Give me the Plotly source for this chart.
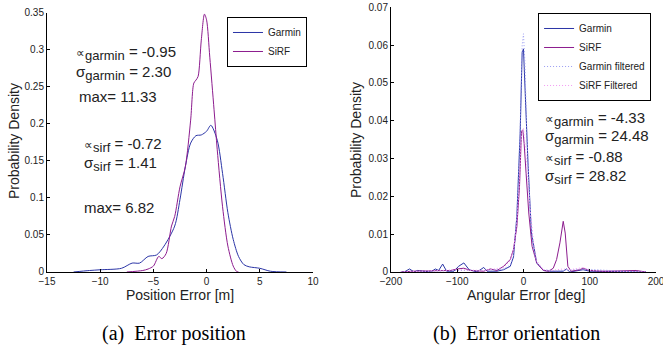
import plotly.graph_objects as go

# ---------- (a) position error ----------
pos_garmin_x = [-12.5, -11, -10, -8, -7, -6.3, -5.5, -4.7, -4, -3, -2.5, -2, -1.5, -1, -0.5, 0, 0.4, 1, 1.5, 2, 2.5, 3, 3.5, 4, 5, 6, 7.5]
pos_garmin_y = [0, 0.002, 0.003, 0.005, 0.012, 0.012, 0.021, 0.023, 0.035, 0.062, 0.098, 0.142, 0.174, 0.184, 0.185, 0.19, 0.198, 0.178, 0.133, 0.08, 0.044, 0.021, 0.01, 0.007, 0.005, 0.001, 0]
pos_sirf_x = [-7.5, -6, -5.5, -5, -4.5, -4.2, -3.8, -3.3, -3, -2.5, -2, -1.5, -1.2, -1, -0.8, -0.5, -0.2, 0, 0.3, 0.7, 1, 1.5, 2, 2.5, 2.8, 3]
pos_sirf_y = [0, 0.002, 0.004, 0.008, 0.021, 0.018, 0.025, 0.062, 0.075, 0.115, 0.142, 0.205, 0.255, 0.259, 0.264, 0.313, 0.348, 0.34, 0.29, 0.219, 0.165, 0.088, 0.035, 0.008, 0.001, 0]

# ---------- (b) orientation error ----------
ang_garmin_x = [-185, -180, -172, -165, -160, -150, -140, -133, -128, -122, -116, -105, -98, -90, -82, -70, -60, -55, -40, -30, -20, -15, -10, -5, -2, 0, 3, 7, 12, 20, 30, 40, 60, 65, 70, 85, 90, 100, 150, 185]
ang_garmin_y = [0, 0, 0.0008, 0, 0.0004, 0.0002, 0, 0.0008, 0.0004, 0.0021, 0.0002, 0.0002, 0.0015, 0.0024, 0.0006, 0, 0.0012, 0.0002, 0.0002, 0.0006, 0.0015, 0.004, 0.0147, 0.0367, 0.058, 0.059, 0.0455, 0.028, 0.0103, 0.0024, 0.0004, 0.0002, 0.0002, 0.0008, 0, 0.0006, 0.0006, 0.0002, 0, 0]
ang_sirf_x = [-185, -180, -170, -110, -100, -90, -80, -60, -50, -40, -30, -20, -15, -10, -6, -3, -1, 1, 4, 8, 13, 20, 30, 38, 45, 50, 55, 60, 63, 67, 72, 85, 90, 100, 120, 170, 185]
ang_sirf_y = [0, 0, 0.0002, 0.0004, 0.0008, 0.001, 0.0004, 0.0002, 0.0008, 0.0004, 0.0015, 0.0033, 0.006, 0.012, 0.0226, 0.0372, 0.0376, 0.034, 0.026, 0.0156, 0.0068, 0.0024, 0.0004, 0.0002, 0.001, 0.0033, 0.0077, 0.0134, 0.0103, 0.0015, 0.0002, 0.0006, 0.001, 0.0004, 0.0002, 0.0004, 0]
ang_garmin_f_x = [-185, -150, -100, -60, -30, -20, -15, -10, -5, -2, 0, 2, 5, 10, 15, 20, 30, 50, 90, 150, 185]
ang_garmin_f_y = [0, 0.0002, 0.0004, 0.0004, 0.0008, 0.0018, 0.0045, 0.015, 0.038, 0.06, 0.063, 0.056, 0.037, 0.016, 0.006, 0.0025, 0.0006, 0.0003, 0.0008, 0.0002, 0]
ang_sirf_f_x = [-185, -150, -100, -60, -30, -20, -15, -10, -6, -3, 0, 3, 6, 10, 15, 20, 30, 40, 50, 60, 70, 80, 90, 100, 150, 185]
ang_sirf_f_y = [0, 0.0002, 0.0006, 0.0004, 0.0012, 0.003, 0.006, 0.013, 0.024, 0.036, 0.038, 0.033, 0.025, 0.017, 0.008, 0.003, 0.0006, 0.0003, 0.0006, 0.0008, 0.0006, 0.0008, 0.0012, 0.0004, 0.0002, 0]

GARMIN = "#2b35a6"
SIRF = "#8c1c8e"
GARMIN_F = "#9a9cf2"
SIRF_F = "#f29af2"

fig = go.Figure()
fig.add_trace(go.Scatter(x=pos_garmin_x, y=pos_garmin_y, mode="lines", name="Garmin",
                         line=dict(color=GARMIN, width=1, shape="spline", smoothing=0.8),
                         xaxis="x", yaxis="y", legend="legend"))
fig.add_trace(go.Scatter(x=pos_sirf_x, y=pos_sirf_y, mode="lines", name="SiRF",
                         line=dict(color=SIRF, width=1, shape="spline", smoothing=0.8),
                         xaxis="x", yaxis="y", legend="legend"))

fig.add_trace(go.Scatter(x=ang_garmin_x, y=ang_garmin_y, mode="lines", name="Garmin",
                         line=dict(color=GARMIN, width=1), xaxis="x2", yaxis="y2", legend="legend2"))
fig.add_trace(go.Scatter(x=ang_sirf_x, y=ang_sirf_y, mode="lines", name="SiRF",
                         line=dict(color=SIRF, width=1), xaxis="x2", yaxis="y2", legend="legend2"))
fig.add_trace(go.Scatter(x=ang_garmin_f_x, y=ang_garmin_f_y, mode="lines", name="Garmin filtered",
                         line=dict(color=GARMIN_F, width=1, dash="1px,2px"), xaxis="x2", yaxis="y2", legend="legend2"))
fig.add_trace(go.Scatter(x=ang_sirf_f_x, y=ang_sirf_f_y, mode="lines", name="SiRF Filtered",
                         line=dict(color=SIRF_F, width=1, dash="1px,2px"), xaxis="x2", yaxis="y2", legend="legend2"))

axis_common = dict(showline=True, linecolor="black", linewidth=1, ticks="inside", ticklen=3,
                   tickcolor="black", showgrid=False, zeroline=False, mirror=False, automargin=False,
                   ticklabeloverflow="allow",
                   tickfont=dict(family="Liberation Sans, Arial", size=10, color="#222"))

fig.update_layout(
    width=663, height=351,
    margin=dict(l=0, r=0, t=0, b=0),
    paper_bgcolor="white", plot_bgcolor="white",
    showlegend=True,
    xaxis=dict(domain=[0.0709, 0.4721], range=[-15, 10], dtick=5, anchor="y", **axis_common),
    yaxis=dict(domain=[0.2251, 0.9638], range=[0, 0.35], dtick=0.05, anchor="x", **axis_common),
    xaxis2=dict(domain=[0.5897, 0.9894], range=[-200, 200], dtick=100, anchor="y2", **axis_common),
    yaxis2=dict(domain=[0.2251, 0.9792], range=[0, 0.07], dtick=0.01, anchor="x2", **axis_common),
    legend=dict(x=0.463, y=0.9516, xanchor="right", yanchor="top", bgcolor="white",
                bordercolor="black", borderwidth=1, itemwidth=30,
                font=dict(family="Liberation Sans, Arial", size=10, color="#222"),
                tracegroupgap=0),
    legend2=dict(x=0.982, y=0.963, xanchor="right", yanchor="top", bgcolor="white",
                 bordercolor="black", borderwidth=1, itemwidth=30,
                 font=dict(family="Liberation Sans, Arial", size=10, color="#222"),
                 tracegroupgap=0),
)

# axis titles (placed as annotations for exact positioning)
title_font = dict(family="Liberation Sans, Arial", size=14, color="#222")
H = 351.0
W = 663.0
fig.add_annotation(x=180 / W, y=(H - 295) / H, xref="paper", yref="paper", text="Position Error [m]",
                   showarrow=False, xanchor="center", yanchor="middle", font=title_font)
fig.add_annotation(x=526 / W, y=(H - 295) / H, xref="paper", yref="paper", text="Angular Error [deg]",
                   showarrow=False, xanchor="center", yanchor="middle", font=title_font)
fig.add_annotation(x=14 / W, y=(H - 141) / H, xref="paper", yref="paper", text="Probability Density",
                   showarrow=False, xanchor="center", yanchor="middle", textangle=-90, font=title_font)
fig.add_annotation(x=356 / W, y=(H - 140) / H, xref="paper", yref="paper", text="Probability Density",
                   showarrow=False, xanchor="center", yanchor="middle", textangle=-90, font=title_font)

ann_font = dict(family="Liberation Sans, Arial", size=15, color="#222")
PROP = '<span style="font-size:12px">∝</span>'
SUB = '<sub><span style="font-size:13px">{}</span></sub>'
left_notes = [
    (PROP + SUB.format("garmin") + " = -0.95", 0.296),
    ("σ" + SUB.format("garmin") + " = 2.30", 0.268),
    ("max= 11.33", 0.237),
    (PROP + SUB.format("sirf") + " = -0.72", 0.172),
    ("σ" + SUB.format("sirf") + " = 1.41", 0.146),
    ("max= 6.82", 0.0864),
]
left_x = [-12.5, -12.5, -12.2, -11.7, -11.7, -11.7]
for (txt, yv), xv in zip(left_notes, left_x):
    fig.add_annotation(x=xv, y=yv, xref="x", yref="y", text=txt, showarrow=False,
                       xanchor="left", yanchor="middle", font=ann_font)

right_notes = [
    (PROP + SUB.format("garmin") + " = -4.33", 0.0404),
    ("σ" + SUB.format("garmin") + " = 24.48", 0.0357),
    (PROP + SUB.format("sirf") + " = -0.88", 0.0302),
    ("σ" + SUB.format("sirf") + " = 28.82", 0.0250),
]
for txt, yv in right_notes:
    fig.add_annotation(x=29, y=yv, xref="x2", yref="y2", text=txt, showarrow=False,
                       xanchor="left", yanchor="middle", font=ann_font)

cap_font = dict(family="Liberation Serif, Times New Roman", size=20, color="black")
fig.add_annotation(x=174 / W, y=(H - 333) / H, xref="paper", yref="paper",
                   text="(a)  Error position", showarrow=False, xanchor="center",
                   yanchor="middle", font=cap_font)
fig.add_annotation(x=516 / W, y=(H - 333) / H, xref="paper", yref="paper",
                   text="(b)  Error orientation", showarrow=False, xanchor="center",
                   yanchor="middle", font=cap_font)

fig.write_html("out.html", config={"displayModeBar": False},
               post_script="document.body.style.margin='0';document.body.style.padding='0';")
